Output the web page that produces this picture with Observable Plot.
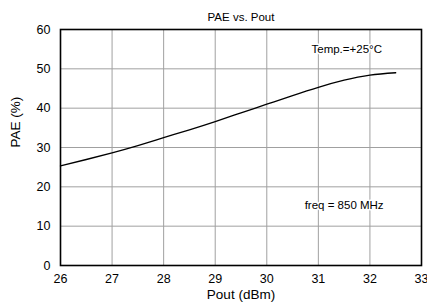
<!DOCTYPE html>
<html>
<head>
<meta charset="utf-8">
<script src="https://cdn.jsdelivr.net/npm/d3@7"></script>
<script src="https://cdn.jsdelivr.net/npm/@observablehq/plot@0.6"></script>
<style>
body { margin: 0; background: #fff; }
svg { font-family: "Liberation Sans", Arial, sans-serif; }
</style>
</head>
<body>
<div id="chart"></div>
<script>
const pout = [26, 26.5, 27, 27.5, 28, 28.5, 29, 29.5, 30, 30.5, 31, 31.5, 32, 32.5];
const pae  = [25.3, 26.95, 28.65, 30.5, 32.5, 34.5, 36.6, 38.8, 41.0, 43.2, 45.3, 47.1, 48.4, 49.0];
const xTicks = [26, 27, 28, 29, 30, 31, 32, 33];
const yTicks = [0, 10, 20, 30, 40, 50, 60];
const title = "PAE vs. Pout";
const xLabel = "Pout (dBm)";
const yLabel = "PAE (%)";
const notes = [{x: 31.55, y: 55, t: "Temp.=+25°C"}, {x: 31.5, y: 15.2, t: "freq = 850 MHz"}];

const data = pout.map((x, i) => ({x, y: pae[i]}));

const chart = Plot.plot({
  width: 427,
  height: 307,
  marginLeft: 60,
  marginRight: 6,
  marginTop: 29,
  marginBottom: 42,
  style: {fontFamily: "Liberation Sans, Arial, sans-serif", fontSize: "12.5px", color: "#000", background: "#fff"},
  x: {domain: [26, 33], ticks: xTicks, label: null},
  y: {domain: [0, 60], ticks: yTicks, label: null},
  marks: [
    Plot.gridX(xTicks, {stroke: "#a0a0a0", strokeOpacity: 1, strokeWidth: 1}),
    Plot.gridY(yTicks, {stroke: "#a0a0a0", strokeOpacity: 1, strokeWidth: 1}),
    Plot.axisX(xTicks, {tickSize: 0, tickPadding: 9, fontSize: 12.5, label: null}),
    Plot.axisY(yTicks, {tickSize: 0, tickPadding: 10, fontSize: 12.5, label: null}),
    Plot.line(data, {x: "x", y: "y", curve: "natural", stroke: "#000", strokeWidth: 1.3}),
    Plot.frame({stroke: "#000", strokeWidth: 1.6}),
    Plot.text(notes, {x: "x", y: "y", text: "t", fontSize: 11.5, fill: "#000", stroke: "#fff", strokeWidth: 3}),
    Plot.text([title], {frameAnchor: "top", dy: -17, fontSize: 11.5, fill: "#000"}),
    Plot.text([xLabel], {frameAnchor: "bottom", dy: 33, fontSize: 13.5, fill: "#000"}),
    Plot.text([yLabel], {frameAnchor: "left", dx: -45, rotate: -90, fontSize: 13.5, fill: "#000"})
  ]
});
document.getElementById("chart").appendChild(chart);
</script>
</body>
</html>
